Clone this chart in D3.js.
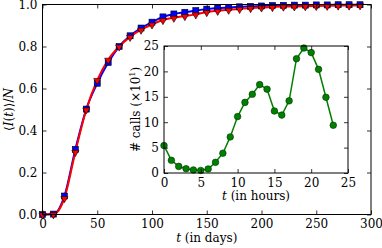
<!DOCTYPE html>
<html>
<head>
<meta charset="utf-8">
<script src="https://cdn.jsdelivr.net/npm/d3@7"></script>
<style>
  body { margin: 0; background: #fff; }
  svg text { font-family: "DejaVu Serif", serif; }
</style>
</head>
<body>
<div id="chart"></div>
<script>
// main panel: fraction infected vs days
const days = [0, 10, 20, 30, 40, 50, 60, 70, 80, 90, 100, 110, 120, 130, 140,
  150, 160, 170, 180, 190, 200, 210, 220, 230, 240, 250, 260, 270, 280, 290];
const blueVals = [0, 0.002, 0.088, 0.31, 0.502, 0.625, 0.724, 0.80, 0.851, 0.888,
  0.916, 0.941, 0.955, 0.963, 0.971, 0.978, 0.983, 0.986, 0.989, 0.991,
  0.993, 0.995, 0.996, 0.997, 0.997, 0.998, 0.998, 0.999, 0.999, 0.999];
const redVals = [0, 0.001, 0.078, 0.298, 0.50, 0.64, 0.737, 0.80, 0.846, 0.88,
  0.905, 0.926, 0.937, 0.945, 0.953, 0.964, 0.97, 0.975, 0.979, 0.983,
  0.986, 0.988, 0.99, 0.991, 0.992, 0.993, 0.994, 0.995, 0.995, 0.996];
const xTicks = [0, 50, 100, 150, 200, 250, 300];
const yTicks = [0, 0.2, 0.4, 0.6, 0.8, 1.0];

// inset: calls per hour of day
const hours = [0, 1, 2, 3, 4, 5, 6, 7, 8, 9, 10, 11, 12, 13, 14, 15, 16, 17, 18, 19, 20, 21, 22, 23];
const calls = [5.4, 2.5, 1.3, 0.85, 0.6, 0.5, 0.8, 2.1, 3.9, 7.1, 11.1, 13.9, 15.5, 17.4,
  16.5, 12.2, 11.4, 14.2, 22.5, 24.6, 23.7, 20.4, 14.9, 9.4];
const insetTicks = [0, 5, 10, 15, 20, 25];

const W = 382, H = 248;
const FS = '12px';
const svg = d3.select('#chart').append('svg')
  .attr('width', W).attr('height', H);

const main = {left: 42.5, right: 371, top: 4.5, bottom: 214.5};
const ins = {left: 164, right: 348, top: 46, bottom: 173};

const x = d3.scaleLinear().domain([0, 300]).range([main.left, main.right]);
const y = d3.scaleLinear().domain([0, 1]).range([main.bottom, main.top]);
const xi = d3.scaleLinear().domain([0, 25]).range([ins.left, ins.right]);
const yi = d3.scaleLinear().domain([0, 25]).range([ins.bottom, ins.top]);

// draws the four-sided frame with inward ticks, matplotlib classic style
function frame(g, sx, sy, xt, yt, fmtX, fmtY, box) {
  const tl = 4;
  g.append('g').attr('transform', `translate(0,${box.bottom})`)
    .call(d3.axisBottom(sx).tickValues(xt).tickFormat(fmtX).tickSizeInner(-tl).tickSizeOuter(0).tickPadding(5));
  g.append('g').attr('transform', `translate(0,${box.top})`)
    .call(d3.axisTop(sx).tickValues(xt).tickFormat('').tickSizeInner(-tl).tickSizeOuter(0));
  g.append('g').attr('transform', `translate(${box.left},0)`)
    .call(d3.axisLeft(sy).tickValues(yt).tickFormat(fmtY).tickSizeInner(-tl).tickSizeOuter(0).tickPadding(5));
  g.append('g').attr('transform', `translate(${box.right},0)`)
    .call(d3.axisRight(sy).tickValues(yt).tickFormat('').tickSizeInner(-tl).tickSizeOuter(0));
  g.selectAll('.domain').remove();
  g.selectAll('g').attr('font-family', null).attr('font-size', null);
  g.selectAll('.tick line').attr('stroke', '#000').attr('stroke-width', 0.8);
  g.selectAll('.tick text').style('font-size', FS).attr('fill', '#000');
  g.append('rect')
    .attr('x', box.left).attr('y', box.top)
    .attr('width', box.right - box.left).attr('height', box.bottom - box.top)
    .attr('fill', 'none').attr('stroke', '#000').attr('stroke-width', 1);
}

// main curves
const gMain = svg.append('g');
const line = d3.line().curve(d3.curveMonotoneX)
  .x((d, i) => x(days[i])).y(d => y(d));

gMain.append('path').datum(blueVals)
  .attr('d', line).attr('fill', 'none').attr('stroke', '#0000ff').attr('stroke-width', 2);
gMain.append('path').datum(redVals)
  .attr('d', line).attr('fill', 'none').attr('stroke', '#ff0000').attr('stroke-width', 2);

gMain.selectAll('.sq').data(blueVals).enter().append('rect')
  .attr('x', (d, i) => x(days[i]) - 3).attr('y', d => y(d) - 3)
  .attr('width', 6).attr('height', 6)
  .attr('fill', '#0000ff').attr('stroke', '#000').attr('stroke-width', 0.6);

const tri = d3.symbol().type(d3.symbolTriangle).size(22);
gMain.selectAll('.tri').data(redVals).enter().append('path')
  .attr('d', tri)
  .attr('transform', (d, i) => `translate(${x(days[i])},${y(d) + 0.5}) rotate(180)`)
  .attr('fill', '#ff0000').attr('stroke', '#000').attr('stroke-width', 0.6);

frame(svg.append('g'), x, y, xTicks, yTicks, d3.format('d'), d3.format('.1f'), main);

// main labels
const xl = svg.append('text').attr('x', (main.left + main.right) / 2).attr('y', 242)
  .attr('text-anchor', 'middle').style('font-size', FS);
xl.append('tspan').attr('font-style', 'italic').text('t');
xl.append('tspan').text(' (in days)');

const yl = svg.append('text')
  .attr('transform', `translate(13,${(main.top + main.bottom) / 2}) rotate(-90)`)
  .attr('text-anchor', 'middle').style('font-size', FS);
yl.append('tspan').text('⟨');
yl.append('tspan').attr('font-style', 'italic').text('I');
yl.append('tspan').text('(');
yl.append('tspan').attr('font-style', 'italic').text('t');
yl.append('tspan').text(')⟩/');
yl.append('tspan').attr('font-style', 'italic').text('N');

// inset
const gIn = svg.append('g');
gIn.append('rect')
  .attr('x', ins.left).attr('y', ins.top)
  .attr('width', ins.right - ins.left).attr('height', ins.bottom - ins.top)
  .attr('fill', '#fff');

gIn.append('path').datum(calls)
  .attr('d', d3.line().x((d, i) => xi(hours[i])).y(d => yi(d)))
  .attr('fill', 'none').attr('stroke', '#008000').attr('stroke-width', 1.5);

gIn.selectAll('circle').data(calls).enter().append('circle')
  .attr('cx', (d, i) => xi(hours[i])).attr('cy', d => yi(d)).attr('r', 3.3)
  .attr('fill', '#008000').attr('stroke', '#003300').attr('stroke-width', 0.6);

frame(gIn.append('g'), xi, yi, insetTicks, insetTicks, d3.format('d'), d3.format('d'), ins);

const xil = svg.append('text').attr('x', (ins.left + ins.right) / 2).attr('y', 200)
  .attr('text-anchor', 'middle').style('font-size', FS);
xil.append('tspan').attr('font-style', 'italic').text('t');
xil.append('tspan').text(' (in hours)');

const yil = svg.append('text')
  .attr('transform', `translate(140,${(ins.top + ins.bottom) / 2}) rotate(-90)`)
  .attr('text-anchor', 'middle').style('font-size', FS);
yil.append('tspan').text('# calls (×10');
yil.append('tspan').style('font-size', '8px').attr('dy', -5).text('1');
yil.append('tspan').attr('dy', 5).text(')');
</script>
</body>
</html>
